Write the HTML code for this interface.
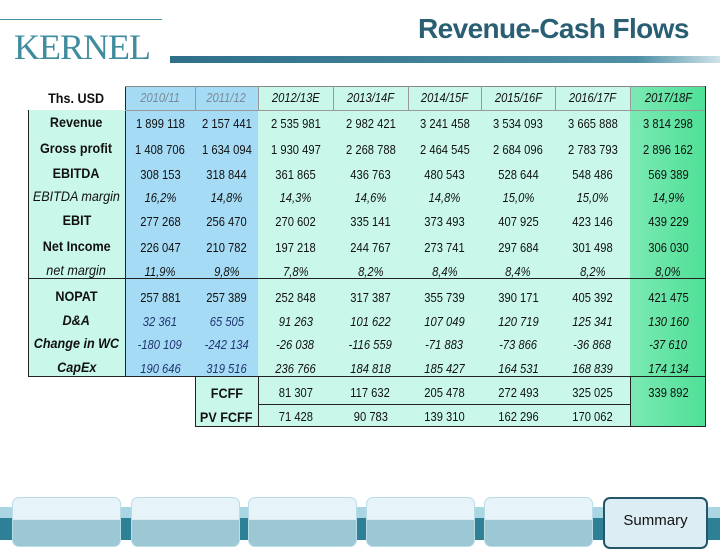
<!DOCTYPE html>
<html><head><meta charset="utf-8">
<style>
body{margin:0;width:720px;height:540px;position:relative;overflow:hidden;background:#fff;font-family:"Liberation Sans",sans-serif;}
.a{position:absolute;}
.c{position:absolute;text-align:center;font-size:13px;color:#111;white-space:nowrap;line-height:16px;}
.c span{display:inline-block;transform:scaleX(0.86);transform-origin:center;}
.c.lab{font-size:14px;}
.c.lab span{transform:scaleX(0.9);}
.tab{position:absolute;top:497px;height:48px;border-radius:7px;border:1px solid #b9dde6;background:linear-gradient(#e6f3f8 0,#e6f3f8 45%,#9cc8d6 46%,#9cc8d6 100%);}
</style></head><body>
<div class="a" style="left:0;top:19px;width:162px;height:1px;background:#3f8c9e"></div>
<div class="a" style="left:14px;top:26px;font-family:'Liberation Serif',serif;font-size:36px;color:#3f8c9e;letter-spacing:-1px">KERNEL</div>
<div class="a" style="left:418px;top:13px;font-family:'Liberation Sans',sans-serif;font-weight:bold;font-size:28px;color:#2a5f73;letter-spacing:-0.6px">Revenue-Cash Flows</div>
<div class="a" style="left:170px;top:56px;width:550px;height:7px;background:linear-gradient(90deg,#2e6f8a,#4f8fa6 85%,#cfe3ea)"></div>

<div id="tbl" class="a" style="left:0;top:0;width:720px;height:440px"></div>

<div class="a" style="left:0;top:507px;width:720px;height:12px;background:#a9d6e2"></div>
<div class="a" style="left:0;top:518px;width:720px;height:22px;background:#2e8097"></div>
<div class="tab" style="left:12px;width:107px"></div>
<div class="tab" style="left:131px;width:107px"></div>
<div class="tab" style="left:248px;width:107px"></div>
<div class="tab" style="left:366px;width:107px"></div>
<div class="tab" style="left:484px;width:107px"></div>
<div class="tab" style="left:603px;width:101px;border:2px solid #24566a;background:#dcedf3;font-size:15px;text-align:center;line-height:44px;color:#111">Summary</div>

<script>
const years=["2010/11","2011/12","2012/13E","2013/14F","2014/15F","2015/16F","2016/17F","2017/18F"];
const rowLabels=["Revenue","Gross profit","EBITDA","EBITDA margin","EBIT","Net Income","net margin","NOPAT","D&A","Change in WC","CapEx"];
const revenue=["1 899 118","2 157 441","2 535 981","2 982 421","3 241 458","3 534 093","3 665 888","3 814 298"];
const grossProfit=["1 408 706","1 634 094","1 930 497","2 268 788","2 464 545","2 684 096","2 783 793","2 896 162"];
const ebitda=["308 153","318 844","361 865","436 763","480 543","528 644","548 486","569 389"];
const ebitdaMargin=["16,2%","14,8%","14,3%","14,6%","14,8%","15,0%","15,0%","14,9%"];
const ebit=["277 268","256 470","270 602","335 141","373 493","407 925","423 146","439 229"];
const netIncome=["226 047","210 782","197 218","244 767","273 741","297 684","301 498","306 030"];
const netMargin=["11,9%","9,8%","7,8%","8,2%","8,4%","8,4%","8,2%","8,0%"];
const nopat=["257 881","257 389","252 848","317 387","355 739","390 171","405 392","421 475"];
const da=["32 361","65 505","91 263","101 622","107 049","120 719","125 341","130 160"];
const changeWC=["-180 109","-242 134","-26 038","-116 559","-71 883","-73 866","-36 868","-37 610"];
const capex=["190 646","319 516","236 766","184 818","185 427","164 531","168 839","174 134"];
const fcff=["81 307","117 632","205 478","272 493","325 025","339 892"];
const pvFcff=["71 428","90 783","139 310","162 296","170 062",""];

const T=document.getElementById('tbl');
const colX=[125,195,258,333,408,481,555,630,706];
const rowY=[122,148,173,196,220,246,270,296,320,343,367];
const rowStyle=["b","b","b","i","b","b","i","b","bi","bi","bi"];
const labelStyle=["b","b","b","i","b","b","i","b","bi","bi","bi"];
const series=[revenue,grossProfit,ebitda,ebitdaMargin,ebit,netIncome,netMargin,nopat,da,changeWC,capex];
function box(x,y,w,h,bg,name){const d=document.createElement('div');d.className='a';d.style.cssText=`left:${x}px;top:${y}px;width:${w}px;height:${h}px;background:${bg}`;


T.appendChild(d);return d;}
function txt(x,y,w,s,st,name,col,bold,lab){const d=document.createElement('div');d.className=lab?'c lab':'c';const sp=document.createElement('span');sp.textContent=s;d.appendChild(sp);d.style.left=x+'px';d.style.top=(y-8)+'px';d.style.width=w+'px';
if(st.includes('i'))d.style.fontStyle='italic';if(bold)d.style.fontWeight='bold';
if(col)d.style.color=col;


T.appendChild(d);return d;}
box(28,110,97,267,'#c9f8ea','label-column-bg');
box(125,86,133,291,'#a6dbf5','historical-columns-bg');
box(258,86,372,341,'#c9f8ea','forecast-columns-bg');
box(195,377,63,50,'#c9f8ea','fcff-label-bg');
box(630,86,76,341,'linear-gradient(90deg,#7be9b4,#4fe096)','final-year-bg');
box(28,110,1,267,'#222','border-left');
box(28,376,678,1,'#222','border-bottom-main');
box(28,278,678,1,'#222','border-section');
box(125,86,1,291,'#222','border-label-col');
box(125,86,581,1,'#888','border-header-top');
box(125,110,581,1,'#999','border-header-bottom');
box(705,86,1,341,'#222','border-right');
box(195,376,1,51,'#222','border-fcff-left');
box(258,376,1,51,'#222','border-fcff-label');
box(195,426,511,1,'#222','border-fcff-bottom');
box(258,404,372,1,'#222','border-fcff-mid');
box(630,376,1,51,'#222','border-final-col');
for(let i=1;i<8;i++)box(colX[i],86,1,24,'#999','header-divider-'+i);
txt(28,98,97,"Ths. USD","",'header-units',null,true,true);
years.forEach((y,i)=>txt(colX[i],98,colX[i+1]-colX[i],y,'i','header-year-'+i,i<2?'#7a8a96':'#111'));
rowLabels.forEach((l,r)=>{const st=rowStyle[r];txt(28,rowY[r],97,l,labelStyle[r],'row-label-'+r,null,labelStyle[r].includes('b'),true);
series[r].forEach((v,i)=>txt(colX[i],rowY[r]+2,colX[i+1]-colX[i],v,st,'cell-'+r+'-'+i,(st.includes('i')&&i<2&&r>6)?'#1f3570':'#111'));});
txt(195,393,63,"FCFF","",'fcff-label',null,true,true);
txt(195,417,63,"PV FCFF","",'pv-fcff-label',null,true,true);
fcff.forEach((v,i)=>txt(colX[i+2],393,colX[i+3]-colX[i+2],v,'','fcff-'+i));
pvFcff.forEach((v,i)=>txt(colX[i+2],417,colX[i+3]-colX[i+2],v,'','pv-fcff-'+i));
</script>
</body></html>
